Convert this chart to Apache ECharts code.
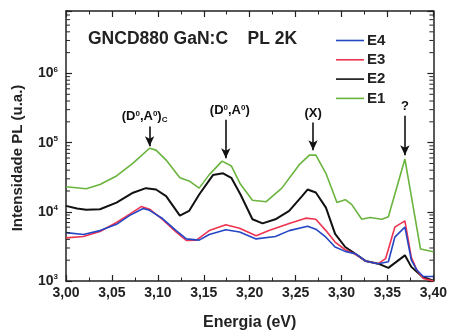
<!DOCTYPE html>
<html><head><meta charset="utf-8">
<script src="https://cdn.jsdelivr.net/npm/echarts@6/dist/echarts.min.js"></script>
<style>html,body{margin:0;padding:0;background:#fff}#c{width:450px;height:336px}</style>
</head><body><div id="c"></div>
<script>
// ---- data ----
const e1E = [3.000,3.022,3.037,3.055,3.073,3.091,3.098,3.109,3.124,3.134,3.145,3.156,3.170,3.180,3.190,3.203,3.218,3.235,3.254,3.265,3.272,3.283,3.295,3.304,3.311,3.322,3.331,3.344,3.351,3.369,3.386,3.400];
const e1V = [2.30e4,2.15e4,2.48e4,3.30e4,5.06e4,8.3e4,7.8e4,5.6e4,3.1e4,2.8e4,2.2e4,3.45e4,5.4e4,4.6e4,2.5e4,1.47e4,1.4e4,2.2e4,4.8e4,6.6e4,6.6e4,3.6e4,1.36e4,1.5e4,1.28e4,7.8e3,8.3e3,7.8e3,8.5e3,5.8e4,2.9e3,2.65e3];
const e2E = [3.000,3.012,3.022,3.037,3.055,3.073,3.087,3.098,3.109,3.124,3.134,3.145,3.160,3.171,3.180,3.190,3.203,3.214,3.228,3.243,3.257,3.263,3.272,3.283,3.293,3.304,3.315,3.326,3.340,3.351,3.369,3.376,3.388,3.400];
const e2V = [1.22e4,1.12e4,1.07e4,1.09e4,1.36e4,1.89e4,2.2e4,2.1e4,1.69e4,8.8e3,1.03e4,1.78e4,3.4e4,3.6e4,3.1e4,1.78e4,7.8e3,6.8e3,7.8e3,1.03e4,1.69e4,2.1e4,1.9e4,1.15e4,4.8e3,3.1e3,2.48e3,1.95e3,1.78e3,1.55e3,2.35e3,1.6e3,1.15e3,1.01e3];
const e3E = [3.000,3.019,3.037,3.055,3.069,3.082,3.091,3.105,3.120,3.131,3.142,3.156,3.174,3.189,3.207,3.221,3.243,3.261,3.272,3.283,3.293,3.304,3.315,3.326,3.340,3.348,3.358,3.369,3.376,3.382,3.389,3.400];
const e3V = [4.2e3,4.4e3,5.2e3,7.0e3,9.2e3,1.19e4,1.09e4,7.8e3,5.1e3,3.85e3,3.9e3,5.35e3,6.5e3,5.8e3,4.5e3,5.35e3,6.8e3,8.1e3,7.8e3,5.35e3,3.65e3,2.83e3,2.43e3,1.95e3,1.78e3,2.1e3,6.0e3,7.4e3,2.2e3,1.44e3,1.09e3,1.0e3];
const e4E = [3.000,3.019,3.037,3.055,3.069,3.084,3.091,3.105,3.120,3.131,3.145,3.156,3.174,3.189,3.207,3.228,3.243,3.263,3.272,3.283,3.293,3.304,3.315,3.326,3.340,3.351,3.358,3.369,3.376,3.382,3.389,3.400];
const e4V = [5.0e3,4.7e3,5.35e3,6.6e3,8.8e3,1.12e4,1.05e4,8.0e3,5.35e3,4.06e3,3.9e3,4.7e3,5.5e3,5.1e3,4.06e3,4.4e3,5.35e3,6.2e3,5.6e3,4.3e3,3.1e3,2.68e3,2.48e3,1.95e3,1.78e3,1.9e3,4.3e3,6.0e3,2.0e3,1.44e3,1.16e3,1.16e3];
const xTicks = ['3,00','3,05','3,10','3,15','3,20','3,25','3,30','3,35','3,40'];
const arrowE = [3.091, 3.174, 3.269, 3.369];
const arrowTop = [1.71e5, 2.15e5, 1.95e5, 2.45e5];
const arrowTip = [8.86e4, 5.97e4, 7.76e4, 6.6e4];
const arrowText = ['(D{s|0},A{s|0}){c|C}', '(D{s|0},A{s|0})', '(X)', '?'];
const minorY = [];
for (let d = 3; d < 7; d++) for (let m = 2; m <= 9; m++) { const v = m * Math.pow(10, d); if (v <= 8e6) minorY.push(v); }

const pair = (E, V) => E.map((e, i) => [e, V[i]]);
const FONT = '"Liberation Sans", Arial, sans-serif';
const AX = '#222';
const chart = echarts.init(document.getElementById('c'));

const supFmt = v => {
  const p = Math.log10(v), r = Math.round(p);
  if (Math.abs(p - r) > 0.01) return '';
  return '10{s|' + r + '}';
};

const xCommon = {
  type: 'value', min: 3.0, max: 3.4, interval: 0.05,
  axisLine: { show: true, onZero: false, lineStyle: { color: AX, width: 1.5 } },
  axisTick: { show: true, inside: true, length: 6, lineStyle: { color: AX, width: 1.2 } },
  minorTick: { show: true, splitNumber: 2, length: 3.5, lineStyle: { color: AX, width: 1 } },
  splitLine: { show: false }
};
const yCommon = {
  type: 'log', logBase: 10, min: 1000, max: 8e6, interval: 1,
  axisLine: { show: true, lineStyle: { color: AX, width: 1.5 } },
  axisTick: { show: true, inside: true, length: 6, lineStyle: { color: AX, width: 1.2 } },
  splitLine: { show: false }
};

const labelPad = [[0, 10, 0, 0], [0, 0, 0, 8], [0, 0, 0, 0], [0, 0, 0, 0]];
const arrowSeries = {
  type: 'line', data: [], silent: true,
  markLine: {
    silent: true, symbol: ['none', 'arrow'], symbolSize: [7, 10],
    lineStyle: { color: '#111', width: 1.6, type: 'solid' },
    label: {
      show: true, position: 'start', distance: 3, color: '#111',
      fontFamily: FONT, fontWeight: 'bold', fontSize: 13,
      formatter: p => arrowText[p.dataIndex],
      rich: {
        s: { fontSize: 8, fontWeight: 'bold', verticalAlign: 'top', lineHeight: 12, padding: [0,0,6,0], fontFamily: FONT, color: '#111' },
        c: { fontSize: 8, fontWeight: 'bold', verticalAlign: 'bottom', padding: [6,0,0,0], fontFamily: FONT, color: '#111' }
      }
    },
    data: arrowE.map((e, i) => [{ coord: [e, arrowTop[i]], label: { padding: labelPad[i] } }, { coord: [e, arrowTip[i]] }])
  }
};

const lineS = (name, data, color, w) => ({
  name, type: 'line', data, symbol: 'none', showSymbol: false, smooth: false,
  lineStyle: { color, width: w }, itemStyle: { color }, z: 3
});

chart.setOption({
  animation: false,
  backgroundColor: '#fff',
  textStyle: { fontFamily: FONT },
  grid: { left: 66, right: 15, top: 11, bottom: 52 },
  title: {
    text: 'GNCD880 GaN:C    PL 2K', left: 83, top: 25,
    textStyle: { fontFamily: FONT, fontWeight: 'bold', fontSize: 17.5, color: '#222' }
  },
  legend: {
    data: ['E4', 'E3', 'E2', 'E1'], orient: 'vertical', left: 331, top: 28,
    itemWidth: 28, itemHeight: 12, itemGap: 4.3,
    textStyle: { fontFamily: FONT, fontWeight: 'bold', fontSize: 15, color: '#222', padding: [0,0,0,-2] },
    icon: 'path://M0,5 L28,5 L28,6.6 L0,6.6 Z'
  },
  xAxis: [
    Object.assign({}, xCommon, {
      position: 'bottom',
      axisLabel: { show: true, formatter: v => xTicks[Math.round((v - 3) / 0.05)] || '', color: '#222', fontFamily: FONT, fontWeight: 'bold', fontSize: 14, margin: 5 },
      name: 'Energia (eV)', nameLocation: 'middle', nameGap: 34,
      nameTextStyle: { fontFamily: FONT, fontWeight: 'bold', fontSize: 16, color: '#222' }
    }),
    Object.assign({}, xCommon, { position: 'top', axisLabel: { show: false } })
  ],
  yAxis: [
    Object.assign({}, yCommon, {
      position: 'left',
      axisLabel: {
        show: true, formatter: supFmt, margin: 8, color: '#222', fontFamily: FONT, fontWeight: 'bold', fontSize: 14,
        rich: { s: { fontSize: 8, fontWeight: 'bold', verticalAlign: 'top', padding: [0,0,8,0], fontFamily: FONT, color: '#222' } }
      }
    }),
    Object.assign({}, yCommon, { position: 'right', axisLabel: { show: false } })
  ],
  series: [
    lineS('E1', pair(e1E, e1V), '#6ab43e', 1.6),
    lineS('E2', pair(e2E, e2V), '#111111', 2),
    lineS('E3', pair(e3E, e3V), '#ee3350', 1.6),
    lineS('E4', pair(e4E, e4V), '#2446c4', 1.6),
    arrowSeries
  ]
});

// minor log ticks (2..9 per decade) on left and right frame, placed through the axis scales
const gfx = [];
minorY.forEach(v => {
  const l = chart.convertToPixel({ xAxisIndex: 0, yAxisIndex: 0 }, [3.0, v]);
  const r = chart.convertToPixel({ xAxisIndex: 0, yAxisIndex: 0 }, [3.4, v]);
  gfx.push({ type: 'line', shape: { x1: l[0], y1: l[1], x2: l[0] + 4, y2: l[1] }, style: { stroke: AX, lineWidth: 1 }, silent: true, z: 10 });
  gfx.push({ type: 'line', shape: { x1: r[0], y1: r[1], x2: r[0] - 4, y2: r[1] }, style: { stroke: AX, lineWidth: 1 }, silent: true, z: 10 });
});
const gb = chart.convertToPixel({ xAxisIndex: 0, yAxisIndex: 0 }, [3.0, 1000]);
const gt = chart.convertToPixel({ xAxisIndex: 0, yAxisIndex: 0 }, [3.0, 8e6]);
gfx.push({
  type: 'text', x: 18, y: (gb[1] + gt[1]) / 2 + 12, rotation: Math.PI / 2, silent: true,
  style: { text: 'Intensidade PL (u.a.)', fill: '#222', font: 'bold 15px ' + FONT, align: 'center', verticalAlign: 'middle' }
});
chart.setOption({ graphic: { elements: gfx } });
</script></body></html>
